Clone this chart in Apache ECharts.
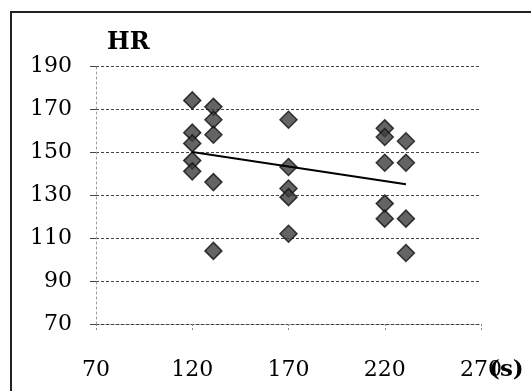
<!DOCTYPE html>
<html>
<head>
<meta charset="utf-8">
<script src="https://cdn.jsdelivr.net/npm/echarts@6/dist/echarts.min.js"></script>
<style>
  html, body { margin: 0; padding: 0; background: #fff; overflow: hidden; }
  #chart { width: 531px; height: 391px; }
</style>
</head>
<body>
<div id="chart"></div>
<script>
// time (s) of each group of measurements
const timeCols = [120, 131, 170, 220, 231];
// HR readings per group
const hrCol1 = [174, 159, 154, 146, 141];
const hrCol2 = [171, 165, 158, 136, 104];
const hrCol3 = [165, 143, 133, 129, 112];
const hrCol4 = [161, 157, 145, 126, 119];
const hrCol5 = [155, 145, 119, 103];
// trend line end points
const trendX = [120, 231];
const trendY = [150, 135];
// axis ticks
const xTicks = [70, 120, 170, 220, 270];
const yTicks = [70, 90, 110, 130, 150, 170, 190];

const hrCols = [hrCol1, hrCol2, hrCol3, hrCol4, hrCol5];
let points = [];
hrCols.forEach((col, i) => {
  col.forEach(v => {
    points.push([timeCols[i], v]);
  });
});
let trend = trendX.map((x, i) => [x, trendY[i]]);

const serif = "DejaVu Serif";
let chart = echarts.init(document.getElementById("chart"));
let option = {
  backgroundColor: "#fff",
  animation: false,
  grid: {
    left: 96,
    right: 50,
    top: 66,
    bottom: 67
  },
  xAxis: {
    type: "value",
    min: xTicks[0],
    max: xTicks[xTicks.length - 1],
    interval: 50,
    axisLine: {
      show: true,
      lineStyle: { color: "#444", type: [3, 2], width: 1 }
    },
    axisTick: {
      show: true,
      length: 8,
      lineStyle: { color: "#888", type: [2, 2] }
    },
    axisLabel: {
      margin: 35,
      fontFamily: serif,
      fontSize: 22,
      color: "#000"
    },
    splitLine: { show: false }
  },
  yAxis: {
    type: "value",
    min: yTicks[0],
    max: yTicks[yTicks.length - 1],
    interval: 20,
    axisLine: {
      show: true,
      lineStyle: { color: "#999", type: [2, 3], width: 1 }
    },
    axisTick: {
      show: true,
      length: 6,
      lineStyle: { color: "#444" }
    },
    axisLabel: {
      margin: 24,
      fontFamily: serif,
      fontSize: 22,
      color: "#000"
    },
    splitLine: {
      show: true,
      lineStyle: { color: "#444", type: [3, 2], width: 1 }
    }
  },
  graphic: [
    {
      // frame: only left and top edges show in the scan
      type: "polyline",
      silent: true,
      shape: { points: [[11, 400], [11, 12], [540, 12]] },
      style: { fill: "none", stroke: "#222", lineWidth: 2 }
    },
    {
      type: "text",
      silent: true,
      x: 107,
      y: 31,
      style: {
        text: "HR",
        font: "bold 24px 'DejaVu Serif'",
        fill: "#000"
      }
    },
    {
      type: "text",
      silent: true,
      x: 489,
      y: 359,
      style: {
        text: "(s)",
        font: "bold 23px 'DejaVu Serif'",
        fill: "#000"
      }
    }
  ],
  series: [
    {
      name: "HR",
      type: "scatter",
      symbol: "diamond",
      symbolSize: 17,
      itemStyle: {
        color: "#3d3d3d",
        borderColor: "#111",
        borderWidth: 1.5
      },
      data: points,
      z: 3
    },
    {
      name: "trend",
      type: "line",
      symbol: "none",
      lineStyle: { color: "#000", width: 2 },
      data: trend,
      z: 4
    }
  ]
};
chart.setOption(option);
</script>
</body>
</html>
